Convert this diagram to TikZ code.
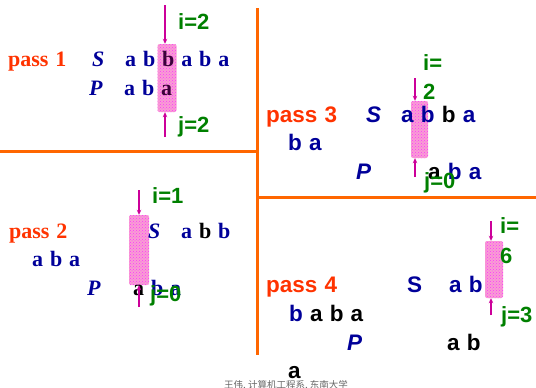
\documentclass[tikz,border=0pt]{standalone}
\usepackage{fontspec}
\setmainfont{Liberation Serif}
\setsansfont{Liberation Sans}
\newfontfamily\serb[WordSpace=1.25]{Liberation Serif}
\newfontfamily\sanb[WordSpace=1.15]{Liberation Sans}
\newfontfamily\cjk{Noto Sans CJK SC}
\usepackage{xcolor}
\usetikzlibrary{arrows.meta,patterns}
\definecolor{passred}{RGB}{255,51,0}
\definecolor{ruleor}{RGB}{255,102,0}
\definecolor{letblue}{RGB}{0,0,153}
\definecolor{idxgreen}{RGB}{0,128,0}
\definecolor{arrmag}{RGB}{204,0,153}
\definecolor{undermark}{RGB}{60,0,60}

\begin{document}
\begin{tikzpicture}[x=1pt,y=-1pt,
  lbl/.style={anchor=base west,inner sep=0pt},
  ser/.style={lbl,font=\fontsize{22}{26}\serb\bfseries,text=letblue},
  san/.style={lbl,font=\fontsize{22.5}{27}\sanb\bfseries,text=letblue},
  pass/.style={text=passred},
  idx/.style={lbl,font=\fontsize{22}{26}\sanb\bfseries,text=idxgreen},
  hl/.style={inner sep=0pt,rounded corners=2pt,preaction={fill=magenta!38},
             pattern=crosshatch dots,pattern color=magenta!80},
  arr/.style={-{Stealth[length=5pt,width=4.5pt]},line width=1.1pt,draw=arrmag},
  sep/.style={draw=ruleor,line width=3pt}]
\useasboundingbox (0,0) rectangle (536,388);
% frames
\draw[sep] (0,151) -- (257,151);
\draw[sep] (257,8) -- (257,355);
\draw[sep] (257,197) -- (536,197);
% pass 1
\node[hl,minimum width=19pt,minimum height=68pt] (hl1) at (167,78) {};
\node[ser,pass] (p1) at (8,66) {pass 1};
\node[ser] (s1) at (92,66) {\itshape S};
\node[ser] (t1) at (125,66) {a b \textcolor{undermark}{b} a b a};
\node[ser] (q1) at (89,95) {\itshape P};
\node[ser] (w1) at (124,95) {a b \textcolor{undermark}{a}};
\node[idx] (i1) at (178,30) {i=2};
\node[idx] (j1) at (178,132) {j=2};
\coordinate (d1) at (165,5);
\coordinate (u1) at (165,137);
\draw[arr] (d1) -- (d1 |- hl1.north);
\draw[arr] (u1) -- (u1 |- hl1.south);
% pass 2
\node[hl,minimum width=20pt,minimum height=70pt] (hl2) at (139,250) {};
\node[ser,pass] (p2) at (9,238) {pass 2};
\node[ser] (r2) at (32,266) {a b a};
\node[ser] (s2) at (148,238) {\itshape S};
\node[ser] (t2) at (181,238) {a \textcolor{black}{b} b};
\node[ser] (q2) at (87,295) {\itshape P};
\node[ser] (w2) at (133,295) {\textcolor{black}{a} b a};
\node[idx] (i2) at (152,203) {i=1};
\node[idx] (j2) at (150,301) {j=0};
\coordinate (d2) at (139,190);
\coordinate (u2) at (139,307);
\draw[arr] (d2) -- (d2 |- hl2.north);
\draw[arr] (u2) -- (u2 |- hl2.south);
% pass 3
\node[hl,minimum width=17pt,minimum height=57pt] (hl3) at (419.5,129.5) {};
\node[san,pass] (p3) at (266,122) {pass 3};
\node[san] (r3) at (288,150) {b a};
\node[san] (s3) at (366,122) {\itshape S};
\node[san] (t3) at (401,122) {a b \textcolor{black}{b} a};
\node[san] (q3) at (356,179) {\itshape P};
\node[san] (w3) at (428,179) {\textcolor{black}{a} b a};
\node[idx] (i3) at (423,70) {i=};
\node[idx] (i3b) at (423,99) {2};
\node[idx] (j3) at (424,188) {j=0};
\coordinate (d3) at (415,78);
\coordinate (u3) at (415,177);
\draw[arr] (d3) -- (d3 |- hl3.north);
\draw[arr] (u3) -- (u3 |- hl3.south);
% pass 4
\node[hl,minimum width=18pt,minimum height=57pt] (hl4) at (494,269.5) {};
\node[san,pass] (p4) at (266,292) {pass 4};
\node[san] (r4) at (289,321) {b \textcolor{black}{a b a}};
\node[san] (s4) at (407,292) {S};
\node[san] (t4) at (449,292) {a b};
\node[san] (q4) at (347,350) {\itshape P};
\node[san,text=black] (w4) at (447,350) {a b};
\node[san,text=black] (z4) at (288,378) {a};
\node[idx] (i4) at (500,233) {i=};
\node[idx] (i4b) at (500,263) {6};
\node[idx] (j4) at (501,322) {j=3};
\coordinate (d4) at (491,221);
\coordinate (u4) at (491,315);
\draw[arr] (d4) -- (d4 |- hl4.north);
\draw[arr] (u4) -- (u4 |- hl4.south);
% footer
\node[anchor=base,inner sep=0pt,font=\cjk\fontsize{9.5}{11}\selectfont,text=black!60] (foot) at (286,388) {王伟, 计算机工程系, 东南大学};
\end{tikzpicture}
\end{document}
